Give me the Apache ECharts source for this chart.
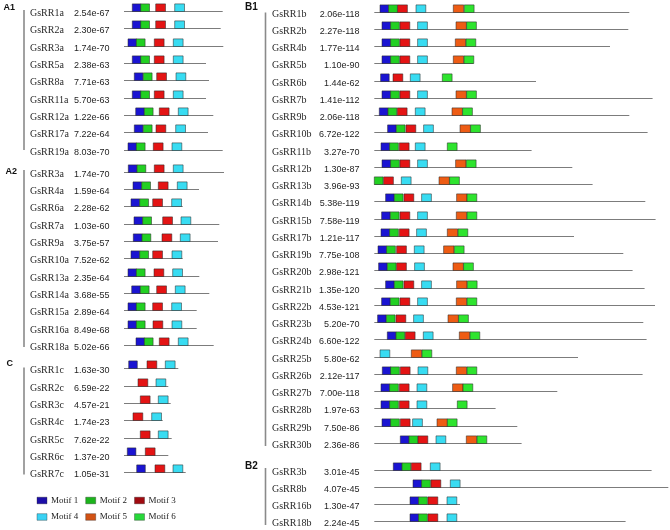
<!DOCTYPE html>
<html><head><meta charset="utf-8">
<script src="https://cdn.jsdelivr.net/npm/echarts@6/dist/echarts.min.js"></script>
<style>html,body{margin:0;padding:0;background:#fff}#c{width:670px;height:530px}</style>
</head><body><div id="c"></div>
<script>
// ---- DATA (positions are along-protein offsets) ----
const motifNames = ['Motif 1','Motif 2','Motif 3','Motif 4','Motif 5','Motif 6'];

const a1Genes = ['GsRR1a','GsRR2a','GsRR3a','GsRR5a','GsRR8a','GsRR11a','GsRR12a','GsRR17a','GsRR19a'];
const a1Evalues = ['2.54e-67','2.30e-67','1.74e-70','2.38e-63','7.71e-63','5.70e-63','1.22e-66','7.22e-64','8.03e-70'];
const a1Lengths = [98.7,96.7,99.3,82,85,82,89.3,84,98.7];
const a1Motifs = [
  [[1,8.3],[2,16.7],[3,31.7],[4,50.7]],
  [[1,8.3],[2,16.7],[3,31.7],[4,50.7]],
  [[1,4],[2,12.3],[3,30.3],[4,49.3]],
  [[1,8.3],[2,16.7],[3,30.3],[4,49.3]],
  [[1,10.3],[2,19.3],[3,32.7],[4,52]],
  [[1,8.3],[2,16.7],[3,30.3],[4,49.3]],
  [[1,11.7],[2,20.3],[3,35.3],[4,54.3]],
  [[1,10.3],[2,19.3],[3,32],[4,51.7]],
  [[1,4],[2,12.3],[3,29.3],[4,48]]
];

const a2Genes = ['GsRR3a','GsRR4a','GsRR6a','GsRR7a','GsRR9a','GsRR10a','GsRR13a','GsRR14a','GsRR15a','GsRR16a','GsRR18a'];
const a2Evalues = ['1.74e-70','1.59e-64','2.28e-62','1.03e-60','3.75e-57','7.52e-62','2.35e-64','3.68e-55','2.89e-64','8.49e-68','5.02e-66'];
const a2Lengths = [100,75,58.7,95.3,94,58.7,75.3,85.3,72.7,72.7,89.7];
const a2Motifs = [
  [[1,4.3],[2,13],[3,30.3],[4,49.3]],
  [[1,9],[2,17.7],[3,34.3],[4,53.3]],
  [[1,7],[2,15.7],[3,28.7],[4,47.7]],
  [[1,10],[2,18.7],[3,38.7],[4,57]],
  [[1,9.3],[2,18],[3,38],[4,56.3]],
  [[1,7],[2,15.7],[3,28.7],[4,48]],
  [[1,4],[2,12.3],[3,30],[4,48.7]],
  [[1,7.7],[2,16.3],[3,32.7],[4,51.3]],
  [[1,4],[2,12.3],[3,28.7],[4,47.7]],
  [[1,4],[2,12.3],[3,29],[4,48]],
  [[1,12],[2,20.3],[3,35.3],[4,54.3]]
];

const cGenes = ['GsRR1c','GsRR2c','GsRR3c','GsRR4c','GsRR5c','GsRR6c','GsRR7c'];
const cEvalues = ['1.63e-30','6.59e-22','4.57e-21','1.74e-23','7.62e-22','1.37e-20','1.05e-31'];
const cLengths = [54.3,44.3,46.7,38.7,47.7,44.3,61.7];
const cMotifs = [
  [[1,4.7],[3,23],[4,41.3]],
  [[3,14],[4,32]],
  [[3,16.3],[4,34.3]],
  [[3,9],[4,27.7]],
  [[3,16.3],[4,34.3]],
  [[1,3.3],[3,21.3]],
  [[1,12.7],[3,31],[4,49]]
];

const b1Genes = ['GsRR1b','GsRR2b','GsRR4b','GsRR5b','GsRR6b','GsRR7b','GsRR9b','GsRR10b','GsRR11b','GsRR12b','GsRR13b','GsRR14b','GsRR15b','GsRR17b','GsRR19b','GsRR20b','GsRR21b','GsRR22b','GsRR23b','GsRR24b','GsRR25b','GsRR26b','GsRR27b','GsRR28b','GsRR29b','GsRR30b'];
const b1Evalues = ['2.06e-118','2.27e-118','1.77e-114','1.10e-90','1.44e-62','1.41e-112','2.06e-118','6.72e-122','3.27e-70','1.30e-87','3.96e-93','5.38e-119','7.58e-119','1.21e-117','7.75e-108','2.98e-121','1.35e-120','4.53e-121','5.20e-70','6.60e-122','5.80e-62','2.12e-117','7.00e-118','1.97e-63','7.50e-86','2.36e-86'];
const b1Lengths = [255,254,235.7,99,161.7,278.3,255,273.3,157.3,198,218.3,271,281.3,199.7,249,258.3,270.3,280.7,269,272.3,203.7,268.3,183,121.3,143,147.3];
const b1Motifs = [
  [[1,5.7],[2,14.3],[3,23.3],[4,41.7],[5,79],[6,90]],
  [[1,7.7],[2,16.3],[3,25.7],[4,43.3],[5,81.7],[6,92.3]],
  [[1,7.7],[2,16.3],[3,25.7],[4,43.3],[5,81],[6,91.7]],
  [[1,7.7],[2,16.3],[3,25.7],[4,43.3],[5,79],[6,89.7]],
  [[1,6.3],[3,18.7],[4,36],[6,68]],
  [[1,7.7],[2,16.3],[3,25.7],[4,43.3],[5,81.7],[6,92.3]],
  [[1,5],[2,13.7],[3,23],[4,41],[5,77.7],[6,88.3]],
  [[1,13.3],[2,22],[3,31.7],[4,49.3],[5,85.7],[6,96.3]],
  [[1,6.7],[2,15.3],[3,25],[4,41],[6,73]],
  [[1,7.7],[2,16.3],[3,25.7],[4,43.3],[5,81.3],[6,92]],
  [[2,0],[3,9.3],[4,27],[5,64.7],[6,75.3]],
  [[1,11.3],[2,20],[3,29.7],[4,47.3],[5,82.3],[6,92.7]],
  [[1,7.3],[2,16],[3,25.7],[4,43.3],[5,82],[6,92.7]],
  [[1,6.7],[2,15.3],[3,25],[4,42.3],[5,73],[6,83.7]],
  [[1,3.7],[2,12.3],[3,22.3],[4,40],[5,69.3],[6,80]],
  [[1,4.3],[2,13],[3,22.3],[4,40.3],[5,78.7],[6,89.3]],
  [[1,11.3],[2,20],[3,29.7],[4,47.3],[5,82.3],[6,93]],
  [[1,7.3],[2,16],[3,25.7],[4,43.3],[5,82],[6,92.7]],
  [[1,3.3],[2,12],[3,21.7],[4,39.3],[5,73.7],[6,84.3]],
  [[1,13],[2,21.7],[3,31],[4,49],[5,85],[6,95.7]],
  [[4,5.7],[5,37],[6,47.7]],
  [[1,8],[2,16.3],[3,26],[4,43.7],[5,82],[6,92.7]],
  [[1,6.7],[2,15.3],[3,25],[4,42.7],[5,78.3],[6,88.7]],
  [[1,6.7],[2,15.3],[3,25],[4,42.7],[6,83]],
  [[1,7.7],[2,16.3],[3,26],[4,38.3],[5,62.7],[6,73]],
  [[1,26],[2,34.7],[3,43.7],[4,61.7],[5,92],[6,102.7]]
];

const b2Genes = ['GsRR3b','GsRR8b','GsRR16b','GsRR18b'];
const b2Evalues = ['3.01e-45','4.07e-45','1.30e-47','2.24e-45'];
const b2Lengths = [277.3,294,85.7,251.3];
const b2Motifs = [
  [[1,19],[2,27.7],[3,37],[4,56]],
  [[1,38.7],[2,47.3],[3,56.7],[4,76]],
  [[1,35.7],[2,44.3],[3,53.7],[4,72.7]],
  [[1,35.7],[2,44.3],[3,53.7],[4,72.7]]
];

// ---- STYLE ----
const boxColors = ['#1a14d2','#22d022','#e41414','#38dcf2','#ee5c14','#2ee42e'];
const legendColors = ['#1c0ea8','#1cb41c','#a00a10','#3ad2f4','#d25214','#28d83a'];
const boxW = [8.6, 8.8, 9.8, 9.8, 10.4, 9.8];
const BOX_H = 7.6;

const groups = [
  {label:'A1', genes:a1Genes, ev:a1Evalues, len:a1Lengths, mot:a1Motifs, top:2.33, step:17.33, side:'L', bar:[10,150], lab:[3.5,8]},
  {label:'A2', genes:a2Genes, ev:a2Evalues, len:a2Lengths, mot:a2Motifs, top:163.0, step:17.33, side:'L', bar:[170,347], lab:[5.5,172]},
  {label:'C',  genes:cGenes,  ev:cEvalues,  len:cLengths,  mot:cMotifs,  top:359.65, step:17.33, side:'L', bar:[367.5,474.5], lab:[6.5,364]},
  {label:'B1', genes:b1Genes, ev:b1Evalues, len:b1Lengths, mot:b1Motifs, top:3.07, step:17.25, side:'R', bar:[12.5,446], lab:[245,7.5]},
  {label:'B2', genes:b2Genes, ev:b2Evalues, len:b2Lengths, mot:b2Motifs, top:461.3, step:17.33, side:'R', bar:[468,525], lab:[245,466]}
];
const sides = {
  L:{left:124, width:100, nameX:30, evX:74, evAlign:'left', barX:24, labSize:9},
  R:{left:374.3, width:295.7, nameX:272, evX:359.5, evAlign:'right', barX:265.5, labSize:10}
};

const grids=[], xAxes=[], yAxes=[], series=[], graphics=[];
groups.forEach((g, gi) => {
  const s = sides[g.side];
  grids.push({left:s.left, top:g.top, width:s.width, height:g.step*g.genes.length});
  xAxes.push({type:'value', gridIndex:gi, min:0, max:s.width, show:false});
  yAxes.push({type:'category', gridIndex:gi, data:g.genes, inverse:true, show:false});
  series.push({
    type:'custom', xAxisIndex:gi, yAxisIndex:gi, silent:true,
    data:g.genes.map((n,i)=>[g.len[i], i]),
    renderItem:function(params, api){
      const i = params.dataIndex;
      const p0 = api.coord([0, i]);
      const p1 = api.coord([api.value(0), i]);
      const y = Math.round(p0[1]) + 0.5;
      const ch = [{type:'line', shape:{x1:p0[0], y1:y, x2:p1[0], y2:y}, style:{stroke:'#7c7c7c', lineWidth:1}}];
      g.mot[i].forEach(function(m){
        const a = api.coord([m[1], i]);
        const b = api.coord([m[1] + boxW[m[0]-1], i]);
        ch.push({type:'rect', shape:{x:a[0], y:y-BOX_H, width:b[0]-a[0], height:BOX_H},
          style:{fill:boxColors[m[0]-1], stroke:'rgba(40,40,40,0.75)', lineWidth:0.7}});
      });
      ch.push({type:'text', style:{text:g.genes[i], x:s.nameX, y:y+1.8, fill:'#2a2a2a',
        font:'10px "Liberation Serif", "Times New Roman", serif', verticalAlign:'middle', align:'left'}});
      ch.push({type:'text', style:{text:g.ev[i], x:s.evX, y:y+1.8, fill:'#1e1e1e',
        font:'9px "Liberation Sans", Arial, sans-serif', verticalAlign:'middle', align:s.evAlign}});
      return {type:'group', children:ch};
    }
  });
  graphics.push({type:'line', shape:{x1:s.barX, y1:g.bar[0], x2:s.barX, y2:g.bar[1]}, style:{stroke:'#8a8a8a', lineWidth:1.6}});
  graphics.push({type:'text', left:g.lab[0], top:g.lab[1]-5, style:{text:g.label, fill:'#111',
    font:'bold '+s.labSize+'px "Liberation Sans", Arial, sans-serif'}});
});

// legend (3 per row)
const legX = [37, 85.7, 134.5], legY = [500.5, 517];
motifNames.forEach((n, k) => {
  const x = legX[k%3], y = legY[Math.floor(k/3)];
  graphics.push({type:'rect', shape:{x:x, y:y-3.3, width:10, height:6.6}, style:{fill:legendColors[k], stroke:'rgba(40,40,40,0.6)', lineWidth:0.6}});
  graphics.push({type:'text', x:x+14, y:y, style:{text:n, fill:'#222', font:'9px "Liberation Serif", "Times New Roman", serif', verticalAlign:'middle'}});
});

const chart = echarts.init(document.getElementById('c'), null, {renderer:'canvas'});
chart.setOption({
  animation:false, backgroundColor:'#fff',
  grid:grids, xAxis:xAxes, yAxis:yAxes, series:series, graphic:graphics
});
</script></body></html>
